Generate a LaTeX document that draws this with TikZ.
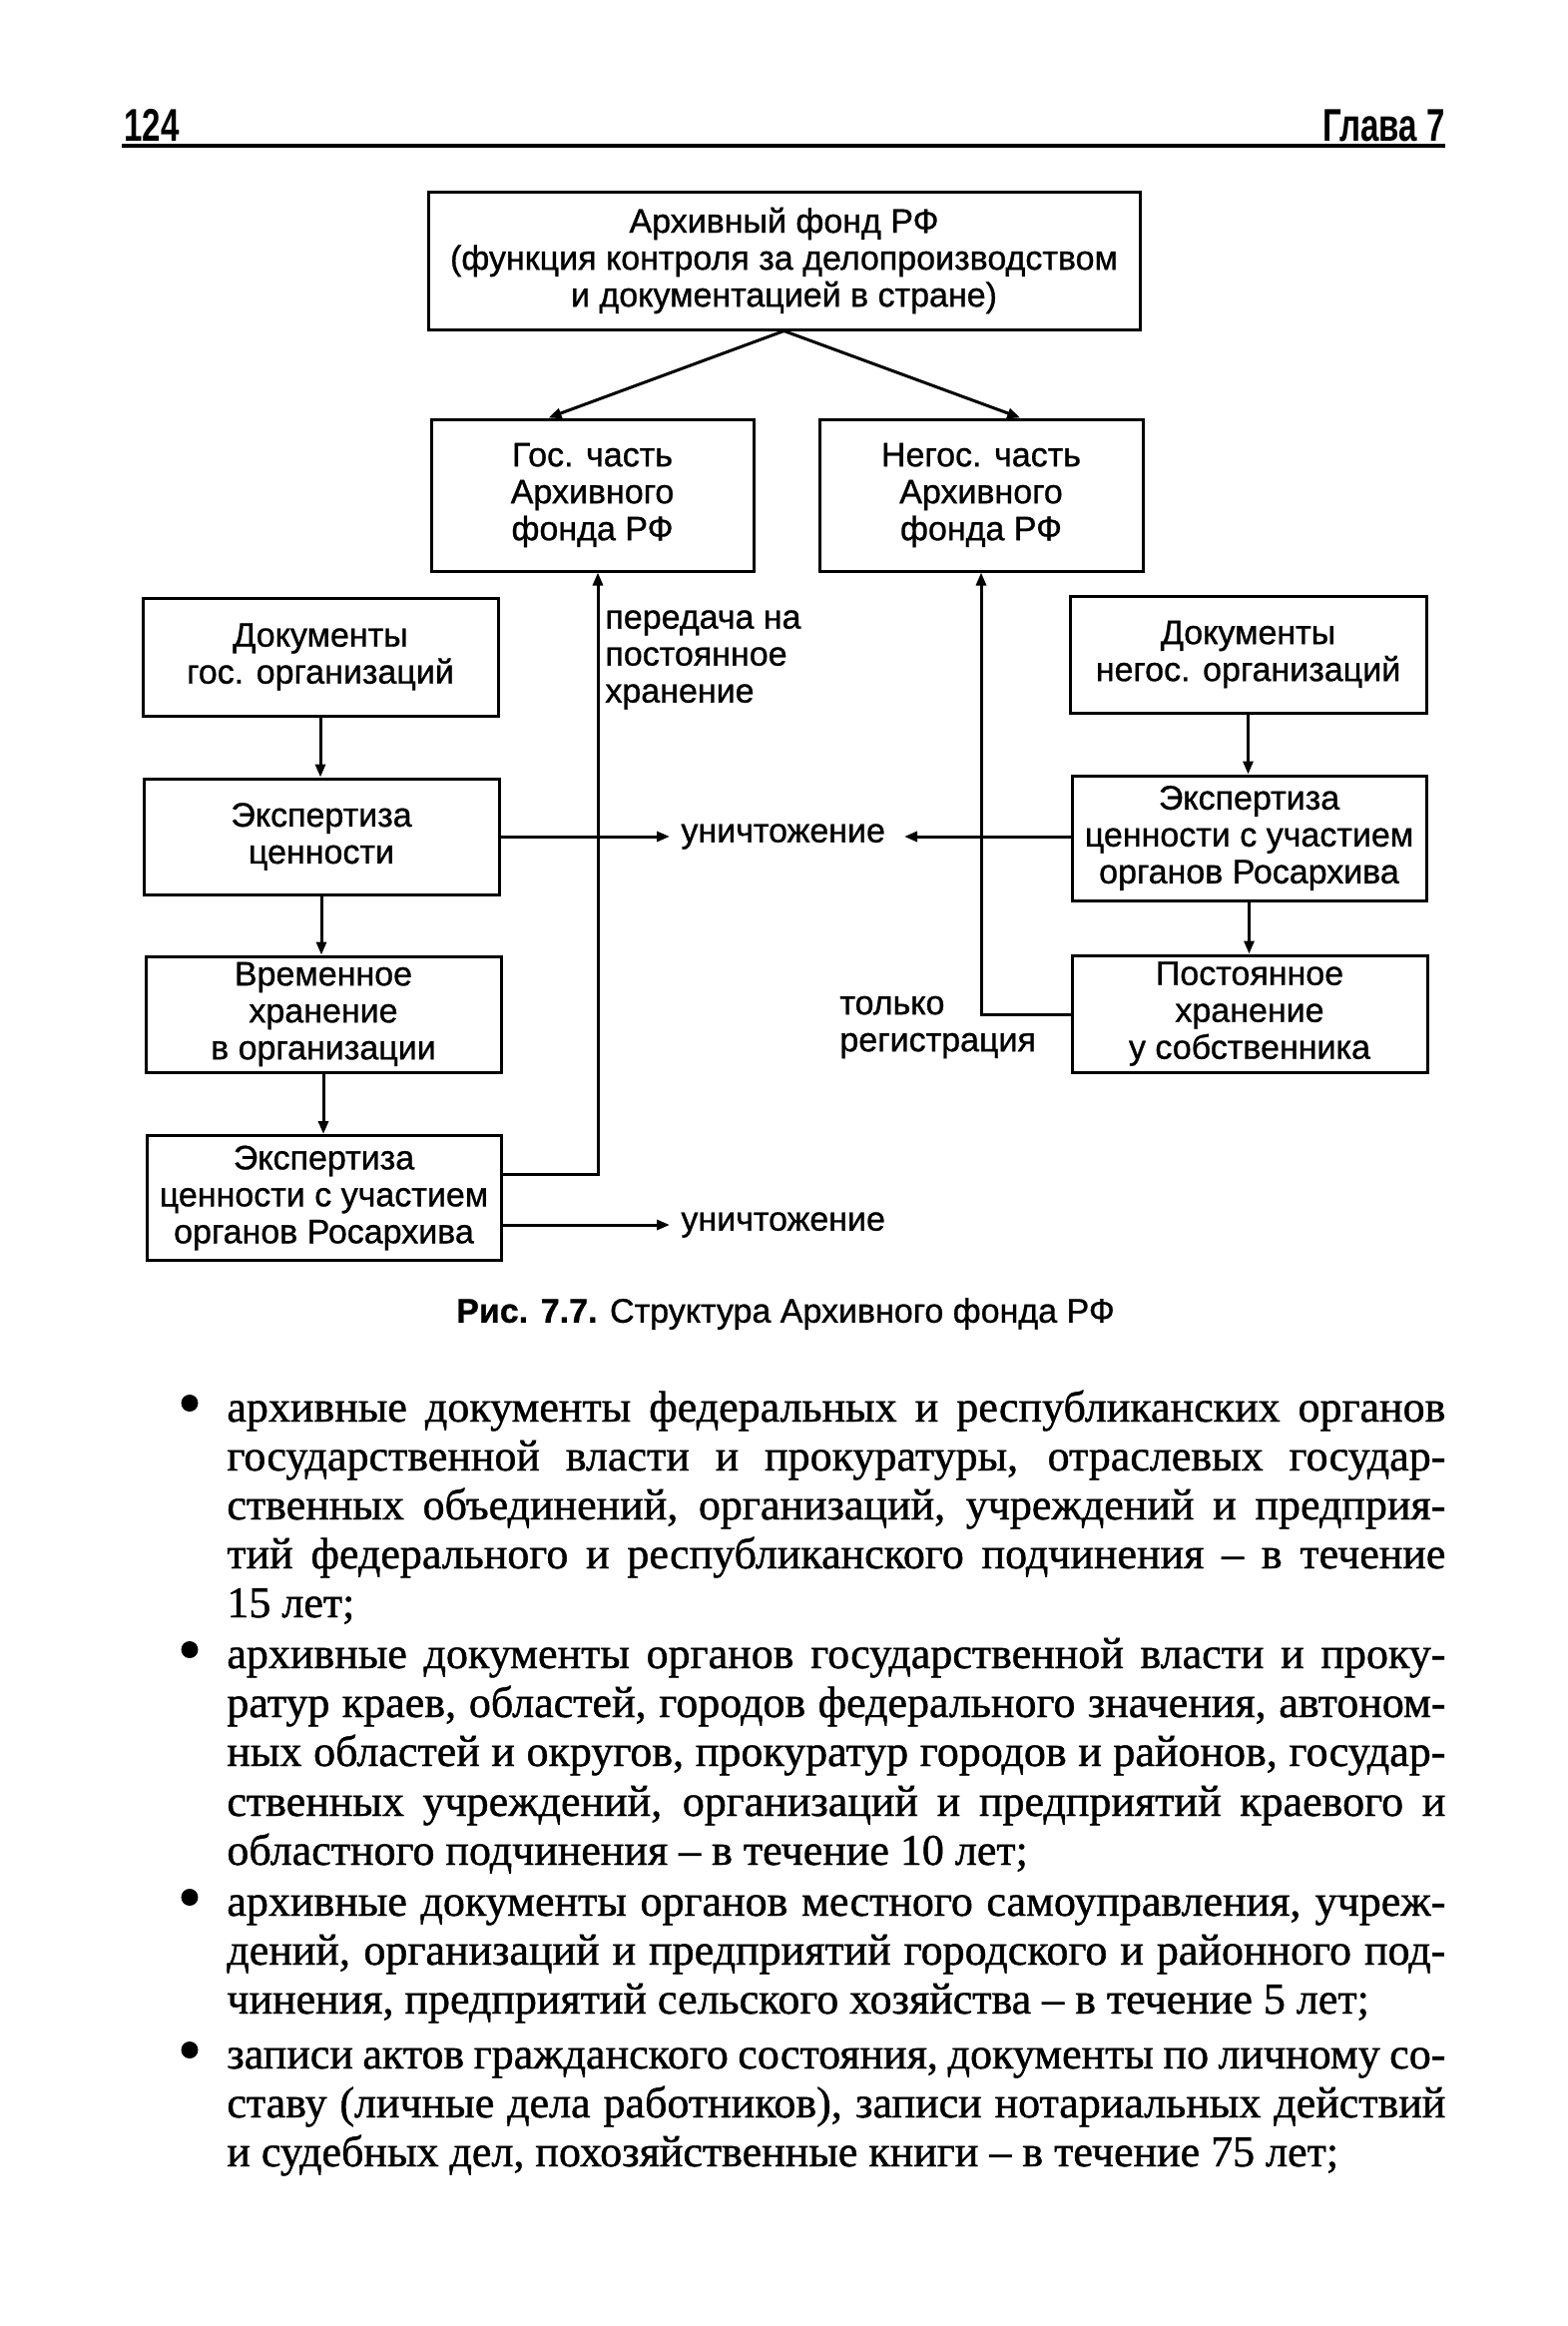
\documentclass[tikz,border=0pt]{standalone}
\usepackage{fontspec}
\setmainfont[FakeBold=1]{Liberation Serif}
\newfontfamily\diagfont[FakeBold=0.9]{Liberation Sans}
\newfontfamily\headfont[FakeStretch=0.72]{Liberation Sans}
\usetikzlibrary{arrows.meta,calc}
\newcommand\justline[1]{\makebox[610.5pt][s]{#1}}
\tikzset{
  box/.style={draw, line width=1.5pt, align=center, inner sep=0pt,
    font=\diagfont\fontsize{17}{18.5}\selectfont},
  arr/.style={line width=1.5pt, -{Triangle[length=6.5pt,width=5pt]}},
  lbl/.style={inner sep=0pt, align=left, font=\diagfont\fontsize{17}{18.5}\selectfont},
  bodyline/.style={anchor=base west, inner sep=0pt, font=\fontsize{22}{25}\selectfont},
  bul/.style={anchor=base, inner sep=0pt, font=\fontsize{34}{25}\selectfont},
}
\begin{document}
\begin{tikzpicture}[x=0.5pt,y=-0.5pt]
\useasboundingbox (0,0) rectangle (1570,2330);
\fill[white] (0,0) rectangle (1570,2330);

% header
\node[anchor=base west, inner sep=0pt, font=\headfont\bfseries\fontsize{23}{24}\selectfont] (pnum) at (124,141) {124};
\node[anchor=base east, inner sep=0pt, font=\headfont\bfseries\fontsize{23}{24}\selectfont] (chap) at (1448,141) {Глава 7};
\draw[line width=1.7pt] (122,146) -- (1448,146);

% boxes
\node[box, minimum width=356.5pt, minimum height=69pt] (top) at (785.5,261)
  {Архивный фонд РФ\\(функция контроля за делопроизводством\\и документацией в стране)};
\node[box, minimum width=161.5pt, minimum height=76pt] (gos) at (593.5,496)
  {Гос. часть\\Архивного\\фонда РФ};
\node[box, minimum width=162pt, minimum height=76pt] (negos) at (983,496)
  {Негос. часть\\Архивного\\фонда РФ};
\node[box, minimum width=178pt, minimum height=59pt] (docsgos) at (321,658)
  {Документы\\гос. организаций};
\node[box, minimum width=178pt, minimum height=58pt] (exp1) at (322,838)
  {Экспертиза\\ценности};
\node[box, minimum width=178pt, minimum height=58pt] (temp) at (324,1016)
  {Временное\\хранение\\в организации};
\node[box, minimum width=177.5pt, minimum height=62.5pt] (exp2) at (324.5,1200)
  {Экспертиза\\ценности с участием\\органов Росархива};
\node[box, minimum width=178.5pt, minimum height=58.5pt] (docsneg) at (1250.5,655.5)
  {Документы\\негос. организаций};
\node[box, minimum width=177.5pt, minimum height=62.5pt] (exp3) at (1251.5,839.5)
  {Экспертиза\\ценности с участием\\органов Росархива};
\node[box, minimum width=178pt, minimum height=58.5pt] (post) at (1252,1015.5)
  {Постоянное\\хранение\\у собственника};

% labels
\node[lbl, anchor=west] (lab1) at (606,661) {передача на\\постоянное\\хранение};
\node[lbl, anchor=west] (lab2) at (841,1029) {только\\регистрация};
\node[lbl, anchor=west] (des1) at (682,838) {уничтожение};
\node[lbl, anchor=west] (des2) at (682,1227) {уничтожение};

% coordinates
\coordinate (t0) at (671,838);
\coordinate (t1) at (906,838);
\coordinate (t2) at (671,1227);
\coordinate (c1) at (599,1176);
\coordinate (c2) at (983,1016);

% connectors
\draw[arr] (top.south) -- ($(gos.north west)!0.365!(gos.north east)$);
\draw[arr] (top.south) -- ($(negos.north west)!0.62!(negos.north east)$);
\draw[arr] (docsgos.south) -- (docsgos.south |- exp1.north);
\draw[arr] (exp1.south) -- (exp1.south |- temp.north);
\draw[arr] (temp.south) -- (temp.south |- exp2.north);
\draw[arr] (docsneg.south) -- (docsneg.south |- exp3.north);
\draw[arr] (exp3.south) -- (exp3.south |- post.north);
\draw[arr] (exp1.east) -- (exp1.east -| t0);
\draw[arr] (exp3.west |- t1) -- (t1);
\draw[arr] (exp2.east |- t2) -- (t2);
\draw[arr] (exp2.east |- c1) -- (c1) -- (c1 |- gos.south);
\draw[arr] (post.west |- c2) -- (c2) -- (c2 |- negos.south);

% caption
\node[inner sep=0pt, font=\diagfont\fontsize{17}{18}\selectfont] (cap) at (787,1316)
  {\textbf{Рис. 7.7.} Структура Архивного фонда РФ};

% body text
\node[bul] (b1) at (190,1428) {•};
\node[bodyline] (l1) at (227,1424) {\justline{архивные документы федеральных и республиканских органов}};
\node[bodyline] (l2) at (227,1473) {\justline{государственной власти и прокуратуры, отраслевых государ-}};
\node[bodyline] (l3) at (227,1522) {\justline{ственных объединений, организаций, учреждений и предприя-}};
\node[bodyline] (l4) at (227,1571) {\justline{тий федерального и республиканского подчинения – в течение}};
\node[bodyline] (l5) at (227,1620) {15 лет;};

\node[bul] (b2) at (190,1675) {•};
\node[bodyline] (l6) at (227,1671) {\justline{архивные документы органов государственной власти и проку-}};
\node[bodyline] (l7) at (227,1720) {\justline{ратур краев, областей, городов федерального значения, автоном-}};
\node[bodyline] (l8) at (227,1769) {\justline{ных областей и округов, прокуратур городов и районов, государ-}};
\node[bodyline] (l9) at (227,1819) {\justline{ственных учреждений, организаций и предприятий краевого и}};
\node[bodyline] (l10) at (227,1868) {областного подчинения – в течение 10 лет;};

\node[bul] (b3) at (190,1923) {•};
\node[bodyline] (l11) at (227,1919) {\justline{архивные документы органов местного самоуправления, учреж-}};
\node[bodyline] (l12) at (227,1968) {\justline{дений, организаций и предприятий городского и районного под-}};
\node[bodyline] (l13) at (227,2017) {чинения, предприятий сельского хозяйства – в течение 5 лет;};

\node[bul] (b4) at (190,2076) {•};
\node[bodyline] (l14) at (227,2072) {\justline{записи актов гражданского состояния, документы по личному со-}};
\node[bodyline] (l15) at (227,2121) {\justline{ставу (личные дела работников), записи нотариальных действий}};
\node[bodyline] (l16) at (227,2170) {и судебных дел, похозяйственные книги – в течение 75 лет;};
\end{tikzpicture}
\end{document}
